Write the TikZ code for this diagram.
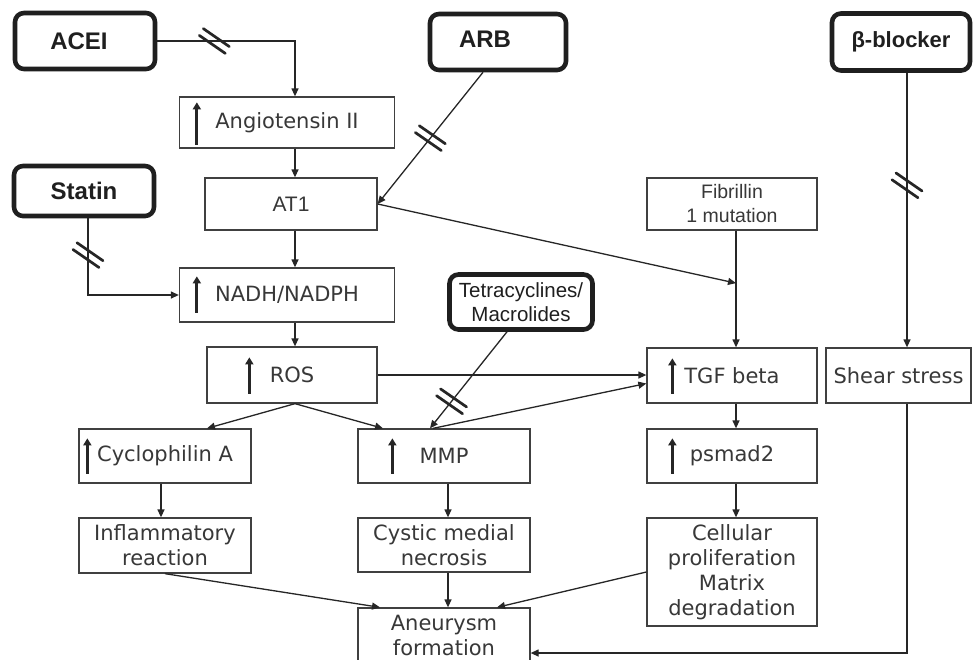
\documentclass[tikz,border=0pt]{standalone}
\usepackage{fontspec}
\setmainfont{DejaVu Sans}
\newfontfamily\arialf{Liberation Sans}
\usetikzlibrary{arrows.meta,calc}
\tikzset{
  box/.style={draw=black!75, line width=1.3pt, fill=white, text=black!78, inner sep=0pt, align=center,
    font=\fontsize{21}{25}\selectfont},
  drug/.style={draw=black!88, line width=4.6pt, rounded corners=9pt, fill=white, text=black!88, inner sep=0pt,
    align=center, font=\arialf\bfseries\fontsize{24}{28}\selectfont},
  conn/.style={draw=black!85, line width=1.3pt, -{Triangle[length=8pt,width=7pt]}},
  uparr/.style={draw=black!85, line width=2.8pt, -{Triangle[length=7pt,width=8pt]}},
  hatch/.pic={\draw[line width=2.7pt, black!85, line cap=round] (-11,-12.4)--(15,5.6) (-15,-5.6)--(11,12.4);}
}
\begin{document}
\begin{tikzpicture}[x=1pt,y=-1pt]
\useasboundingbox (0,0) rectangle (973,659);
\clip (0,0) rectangle (973,659);
\fill[white] (0,0) rectangle (973,659);

% column coordinates
\coordinate (cx) at (295,0);
\coordinate (sc) at (88,0);
\coordinate (tc) at (736,0);
\coordinate (bc) at (907,0);
\coordinate (lc) at (161,0);
\coordinate (mc) at (448,0);

% drug boxes
\node[drug, minimum width=140, minimum height=56] (acei) at (85,41) {ACEI\hspace{12pt}};
\node[drug, minimum width=136, minimum height=56] (arb) at (498,42) {\raisebox{5pt}{ARB}\hspace{26pt}};
\node[drug, minimum width=138, minimum height=57, font=\arialf\bfseries\fontsize{22}{26}\selectfont] (beta) at (901,42) {β-blocker};
\node[drug, minimum width=140, minimum height=50] (statin) at (84,191) {Statin};
\node[drug, minimum width=143, minimum height=55, font=\arialf\fontsize{20.5}{24}\selectfont] (tet) at (521,302) {Tetracyclines/\\Macrolides};

% pathway boxes
\node[box, minimum width=215, minimum height=51] (ang) at (287,122.5) {Angiotensin II};
\node[box, minimum width=172, minimum height=52, font=\arialf\fontsize{21}{24}\selectfont] (at1) at (291,204) {AT1};
\node[box, minimum width=215, minimum height=54] (nadh) at (287,295) {NADH/NADPH};
\node[box, minimum width=170, minimum height=56] (ros) at (292,375) {ROS};
\node[box, minimum width=172, minimum height=54] (cyc) at (165,456) {Cyclophilin A};
\node[box, minimum width=172, minimum height=54] (mmp) at (444,456) {MMP};
\node[box, minimum width=170, minimum height=52, font=\arialf\fontsize{19.5}{24}\selectfont] (fib) at (732,204) {Fibrillin\\1 mutation};
\node[box, minimum width=170, minimum height=55] (tgf) at (732,375.5) {TGF beta};
\node[box, minimum width=145, minimum height=55] (shear) at (898.5,375.5) {Shear stress};
\node[box, minimum width=170, minimum height=54] (psm) at (732,456) {psmad2};
\node[box, minimum width=172, minimum height=55] (infl) at (165,545.5) {Inflammatory\\reaction};
\node[box, minimum width=172, minimum height=54] (cyst) at (444,545) {Cystic medial\\necrosis};
\node[box, minimum width=170, minimum height=108] (cell) at (732,572) {Cellular\\proliferation\\Matrix\\degradation};
\node[box, minimum width=172, minimum height=54] (aneu) at (444,635) {Aneurysm\\formation};

% up arrows inside boxes
\draw[uparr] ($(ang.south west)+(18,-4)$) -- ($(ang.north west)+(18,6)$);
\draw[uparr] ($(nadh.south west)+(18,-10)$) -- ($(nadh.north west)+(18,9)$);
\draw[uparr] ($(ros.south west)+(43,-10)$) -- ($(ros.north west)+(43,11)$);
\draw[uparr] ($(tgf.south west)+(26,-10)$) -- ($(tgf.north west)+(26,11)$);
\draw[uparr] ($(cyc.south west)+(9,-10)$) -- ($(cyc.north west)+(9,10)$);
\draw[uparr] ($(mmp.south west)+(35,-10)$) -- ($(mmp.north west)+(35,10)$);
\draw[uparr] ($(psm.south west)+(26,-10)$) -- ($(psm.north west)+(26,10)$);

% connectors
\draw[conn] (acei.east) -| coordinate[pos=0.207] (h1) (ang.north -| cx);
\draw[conn] (ang.south -| cx) -- (at1.north -| cx);
\draw[conn] ($(arb.south)+(-15,0)$) -- coordinate[pos=0.5] (h2) (at1.east);
\coordinate (j1) at ($(fib.south -| tc)!0.45!(tgf.north -| tc)$);
\draw[conn] (at1.east) -- (j1);
\draw[conn] (fib.south -| tc) -- (tgf.north -| tc);
\draw[conn] (statin.south -| sc) |- coordinate[pos=0.24] (h3) (nadh.west);
\draw[conn] (at1.south -| cx) -- (nadh.north -| cx);
\draw[conn] (nadh.south -| cx) -- (ros.north -| cx);
\draw[conn] (ros.east) -- (ros.east -| tgf.west);
\draw[conn] (ros.south -| cx) -- ($(cyc.north)+(42,0)$);
\draw[conn] (ros.south -| cx) -- ($(mmp.north)+(-61,0)$);
\draw[conn] ($(tet.south)+(-14,0)$) -- coordinate[pos=0.72] (h4) ($(mmp.north)+(-14,0)$);
\draw[conn] ($(mmp.north)+(-11,0)$) -- ($(tgf.west)+(0,8)$);
\draw[conn] (cyc.south -| lc) -- (infl.north -| lc);
\draw[conn] (mmp.south -| mc) -- (cyst.north -| mc);
\draw[conn] (cyst.south -| mc) -- (aneu.north -| mc);
\draw[conn] (tgf.south -| tc) -- (psm.north -| tc);
\draw[conn] (psm.south -| tc) -- (cell.north -| tc);
\draw[conn] (infl.south) -- ($(aneu.north)+(-64,0)$);
\draw[conn] (cell.west) -- ($(aneu.north)+(53,0)$);
\draw[conn] (beta.south -| bc) -- coordinate[pos=0.41] (h5) (shear.north -| bc);
\draw[conn] (shear.south -| bc) |- ($(aneu.east)+(0,18)$);

% blocking marks
\pic at (h1) {hatch};
\pic at (h2) {hatch};
\pic at (h3) {hatch};
\pic at (h4) {hatch};
\pic at (h5) {hatch};
\end{tikzpicture}
\end{document}
